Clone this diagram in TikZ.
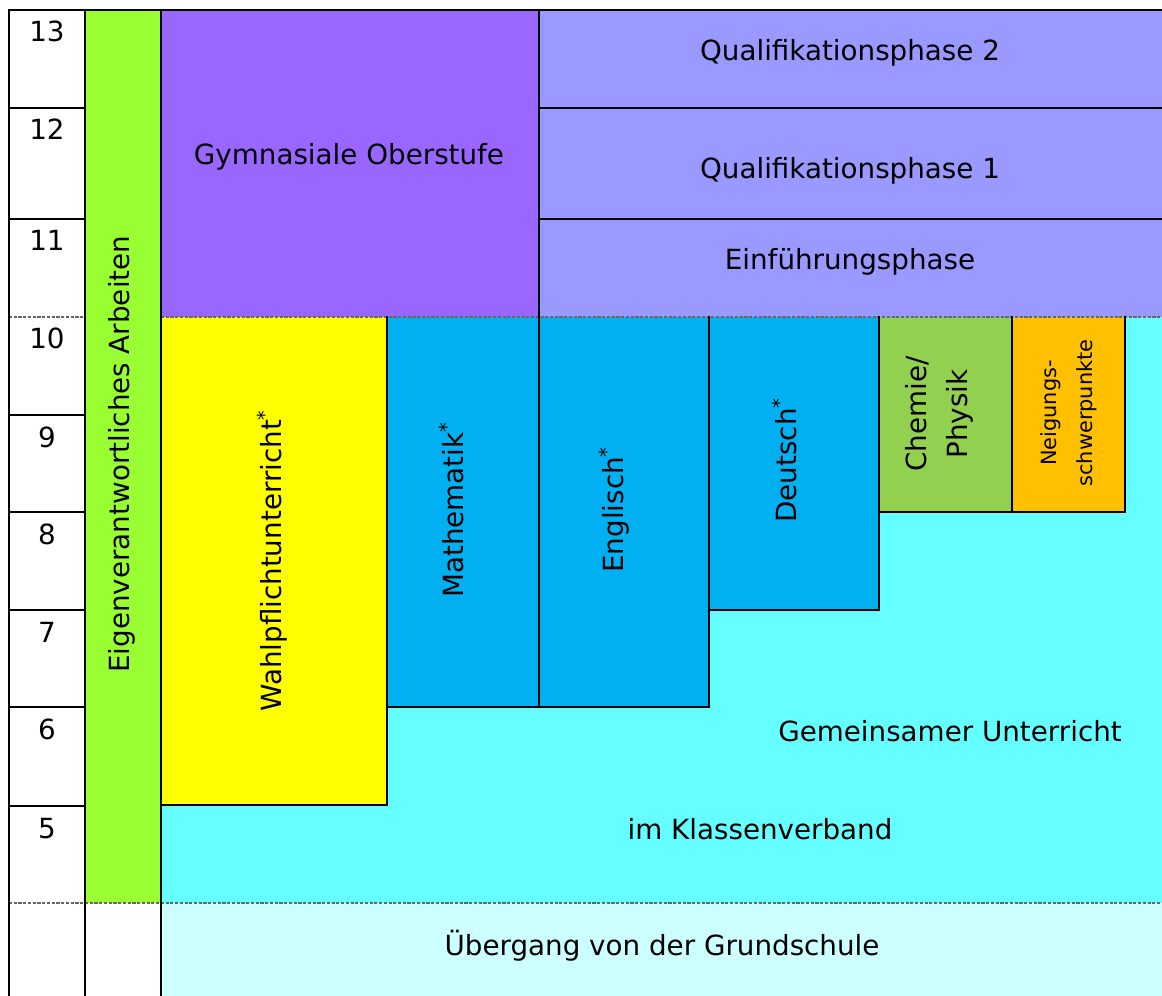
\documentclass[tikz,border=0pt]{standalone}
\usepackage{fontspec}
\setmainfont{DejaVu Sans}
\definecolor{ksgreen}{HTML}{99FF33}
\definecolor{kspurple}{HTML}{9966FF}
\definecolor{kslavender}{HTML}{9999FF}
\definecolor{ksyellow}{HTML}{FFFF00}
\definecolor{ksblue}{HTML}{00B0F0}
\definecolor{kscyan}{HTML}{66FFFF}
\definecolor{kslightcyan}{HTML}{CCFFFF}
\definecolor{kschem}{HTML}{92D050}
\definecolor{ksorange}{HTML}{FFC000}

\begin{document}
\begin{tikzpicture}[x=0.02cm,y=-0.02cm,font=\fontsize{15.8}{23.3}\selectfont,
    every node/.style={align=center,inner sep=0pt},
    rule/.style={line width=1.6pt,line cap=rect},
    sepline/.style={black!60,line width=0.6pt,dash pattern=on 1.8pt off 0.9pt},
    vlabel/.style={rotate=90,anchor=base west},
    hlabel/.style={anchor=base}]
        \useasboundingbox[fill=white] (0,0) rectangle (1162,996);
        % coloured areas
        \fill[ksgreen] (85,10) rectangle (161,903);
        \fill[kspurple] (161,10) rectangle (539,317);
        \fill[kslavender] (539,10) rectangle (1162,317);
        \fill[kscyan] (161,317) rectangle (1162,903);
        \fill[kslightcyan] (161,903) rectangle (1162,996);
        \fill[ksyellow] (161,317) rectangle (387,805);
        \fill[ksblue] (387,317) rectangle (709,707);
        \fill[ksblue] (709,317) rectangle (879,610);
        \fill[kschem] (879,317) rectangle (1012,512);
        \fill[ksorange] (1012,317) rectangle (1125,512);
        % dashed separators
        \draw[sepline] (9,317) -- (85,317);
        \draw[sepline] (161,317) -- (1162,317);
        \draw[sepline] (9,903) -- (1162,903);
        % black rules
        \draw[rule] (9,996) -- (9,10) -- (1162,10);
        \draw[rule] (85,10) -- (85,996);
        \draw[rule] (161,10) -- (161,996);
        \foreach \y in {108,219,415,512,610,707,806}
            \draw[rule] (9,\y) -- (85,\y);
        \draw[rule] (539,108) -- (1162,108);
        \draw[rule] (539,219) -- (1162,219);
        \draw[rule] (539,10) -- (539,707);
        \draw[rule] (387,317) -- (387,805) -- (161,805);
        \draw[rule] (387,707) -- (709,707) -- (709,317);
        \draw[rule] (709,610) -- (879,610) -- (879,317);
        \draw[rule] (879,512) -- (1125,512) -- (1125,317);
        \draw[rule] (1012,317) -- (1012,512);
        % grades
        \foreach \g/\y in {13/10,12/108,11/219,10/317,9/415,8/512,7/610,6/707,5/806}
            \node[hlabel] (grade\g) at (47,\y+32) {\g};
        % labels
        \node[vlabel] (eigen) at (129,673) {Eigenverantwortliches Arbeiten};
        \node[hlabel] (oberstufe) at (349,165) {Gymnasiale Oberstufe};
        \node[hlabel] (qphase2) at (850,61) {Qualifikationsphase 2};
        \node[hlabel] (qphase1) at (850,179) {Qualifikationsphase 1};
        \node[hlabel] (ephase) at (850,270) {Einführungsphase};
        \node[vlabel] (wpu) at (281,712) {Wahlpflichtunterricht\textsuperscript{*}};
        \node[vlabel] (mathe) at (463,598) {Mathematik\textsuperscript{*}};
        \node[vlabel] (englisch) at (623,573) {Englisch\textsuperscript{*}};
        \node[vlabel] (deutsch) at (796,523) {Deutsch\textsuperscript{*}};
        \node[rotate=90] (chemphys) at (939,414) {Chemie/\\Physik};
        \node[rotate=90,font=\fontsize{11.9}{20.4}\selectfont] (neigung) at (1069,413) {Neigungs-\\schwerpunkte};
        \node[hlabel] (gemeinsam) at (950,741) {Gemeinsamer Unterricht};
        \node[hlabel] (klasse) at (760,839) {im Klassenverband};
        \node[hlabel] (uebergang) at (662,955) {Übergang von der Grundschule};
\end{tikzpicture}
\end{document}
